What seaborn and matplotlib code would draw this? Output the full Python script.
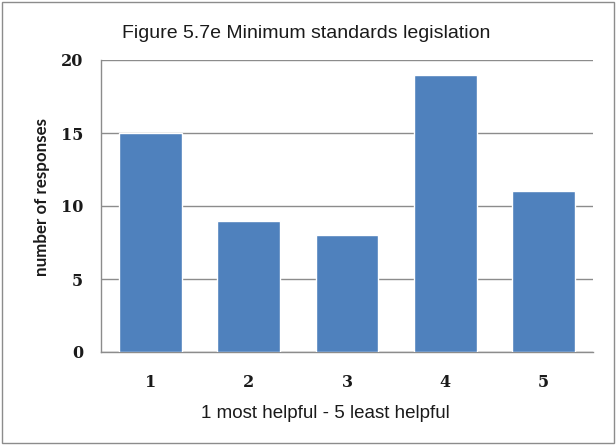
import matplotlib
matplotlib.use("Agg")
import matplotlib.pyplot as plt
from matplotlib.patches import Rectangle
import seaborn as sns

# Survey ratings for minimum standards legislation
ratings = ["1", "2", "3", "4", "5"]
responses = [15, 9, 8, 19, 11]
y_ticks = [0, 5, 10, 15, 20]

title = "Figure 5.7e Minimum standards legislation"
x_label = "1 most helpful - 5 least helpful"
y_label = "number of responses"

sns.set_theme(style="white")
plt.rcParams["font.family"] = ["Liberation Sans", "DejaVu Sans"]

W, H = 616, 445
fig = plt.figure(figsize=(W / 100, H / 100), dpi=100)
ax = fig.add_axes([101 / W, 1 - 352 / H, (593 - 101) / W, (352 - 60) / H])

sns.barplot(x=ratings, y=responses, color="#4F81BD", saturation=1,
            width=0.64, ax=ax, zorder=3)

ax.set_ylim(0, 20)
ax.set_xlim(-0.5, 4.5)
ax.set_yticks(y_ticks)
ax.yaxis.grid(True, color="#8c8c8c", linewidth=1.0, zorder=0)
ax.set_axisbelow(True)

for side in ("top", "right"):
    ax.spines[side].set_visible(False)
for side in ("left", "bottom"):
    ax.spines[side].set_color("#8c8c8c")
    ax.spines[side].set_linewidth(1.0)

ax.tick_params(axis="both", length=0)
ax.tick_params(axis="y", pad=13)
ax.tick_params(axis="x", pad=16)
for lab in ax.get_xticklabels() + ax.get_yticklabels():
    lab.set_fontfamily("DejaVu Serif")
    lab.set_fontweight("bold")
    lab.set_fontsize(11.5)
    lab.set_color("#1a1a1a")

ax.set_xlabel("")
ax.set_ylabel("")
fig.text(325 / W, 1 - 414 / H, x_label, ha="center", va="center",
         fontsize=13.5, color="#1a1a1a", family="Liberation Sans")
fig.text(42 / W, 1 - 197 / H, y_label, ha="center", va="center",
         rotation=90, fontsize=12.2, fontweight="bold", color="#1a1a1a",
         family="Lato")
fig.text(306 / W, 1 - 33 / H, title, ha="center", va="center",
         fontsize=14, color="#1a1a1a", family="Liberation Sans")

# Outer chart frame
fig.patches.append(Rectangle((2 / W, 2 / H), (W - 4) / W, (H - 4) / H,
                             transform=fig.transFigure, fill=False,
                             edgecolor="#8c8c8c", linewidth=1.0))

fig.savefig("out.png", dpi=100, facecolor="white")
